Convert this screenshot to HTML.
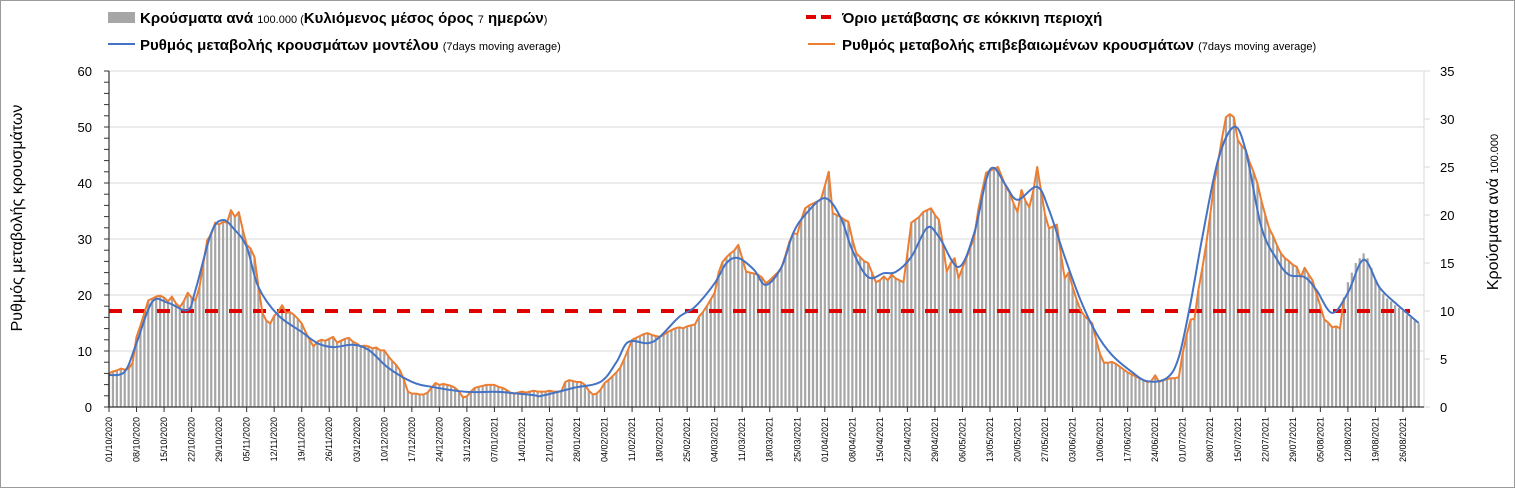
<!DOCTYPE html>
<html><head><meta charset="utf-8"><style>
body{margin:0;background:#fff}
svg{display:block;font-family:"Liberation Sans Narrow","Liberation Sans","Noto Sans CJK SC",sans-serif}
</style></head><body>
<svg id="chart" width="1515" height="488" viewBox="0 0 1515 488" xmlns="http://www.w3.org/2000/svg">
<rect x="0.5" y="0.5" width="1514" height="487" fill="#fff" stroke="#9a9a9a"/>
<g id="grid"></g>
<g id="bars"></g>
<g id="lines"></g>
<g id="axes"></g>
<text transform="translate(22,218) rotate(-90)" text-anchor="middle" font-size="16" fill="#000">Ρυθμός μεταβολής κρουσμάτων</text>
<text transform="translate(1498,212) rotate(-90)" text-anchor="middle" font-size="16" fill="#000">Κρούσματα ανά <tspan font-size="11">100.000</tspan></text>
<g>
<g>
<rect x="108" y="12" width="27" height="11" fill="#a6a6a6"/>
<text x="140" y="23" font-size="15" font-weight="bold" fill="#000">Κρούσματα ανά <tspan font-size="11" font-weight="normal">100.000 (</tspan>Κυλιόμενος μέσος όρος <tspan font-size="11" font-weight="normal">7</tspan> ημερών<tspan font-size="11" font-weight="normal">)</tspan></text>
</g>
<g>
<line x1="108" y1="44" x2="135" y2="44" stroke="#4472c4" stroke-width="2"/>
<text x="140" y="50" font-size="15" font-weight="bold" fill="#000">Ρυθμός μεταβολής κρουσμάτων μοντέλου <tspan font-size="11" font-weight="normal">(7days moving average)</tspan></text>
</g>
<g>
<line x1="806" y1="17" x2="836" y2="17" stroke="#e00000" stroke-width="4" stroke-dasharray="10,5"/>
<text x="842" y="23" font-size="15" font-weight="bold" fill="#000">Όριο μετάβασης σε κόκκινη περιοχή</text>
</g>
<g>
<line x1="808" y1="44" x2="835" y2="44" stroke="#ed7d31" stroke-width="2"/>
<text x="842" y="50" font-size="15" font-weight="bold" fill="#000">Ρυθμός μεταβολής επιβεβαιωμένων κρουσμάτων <tspan font-size="11" font-weight="normal">(7days moving average)</tspan></text>
</g>
</g>
</svg>
<script>
// cases per 100k (right axis), one per day starting 01/10/2020
const cases = [
3.5,3.7,3.8,4.0,3.9,4.0,4.6,7.3,8.5,9.8,
11.1,11.3,11.5,11.6,11.4,11.0,11.5,10.8,10.4,11.0,
11.9,11.4,11.1,12.5,15.0,17.4,18.0,19.2,19.0,19.3,
19.2,20.5,19.8,20.3,18.5,16.9,16.5,15.6,12.5,9.8,
9.0,8.7,9.5,9.9,10.6,9.8,9.9,9.6,9.2,8.7,
7.8,7.0,6.3,6.8,7.0,6.9,7.1,7.3,6.7,6.9,
7.1,7.2,6.8,6.6,6.3,6.4,6.3,6.1,6.2,5.9,
5.9,5.3,4.8,4.4,3.8,2.8,1.6,1.4,1.4,1.3,
1.3,1.5,2.0,2.5,2.3,2.4,2.3,2.2,2.0,1.6,
1.0,1.1,1.6,2.0,2.1,2.2,2.3,2.3,2.3,2.1,
2.0,1.8,1.5,1.4,1.5,1.6,1.5,1.6,1.7,1.6,
1.6,1.6,1.7,1.6,1.6,1.6,2.6,2.8,2.7,2.6,
2.6,2.3,1.7,1.3,1.4,1.8,2.5,2.8,3.2,3.6,
4.1,5.0,6.0,7.0,7.2,7.4,7.6,7.7,7.5,7.4,
7.3,7.5,7.8,8.0,8.2,8.3,8.2,8.4,8.5,8.6,
9.4,9.9,10.5,11.2,11.9,14.0,15.1,15.6,16.0,16.3,
16.9,15.5,14.1,14.0,13.9,13.8,13.5,12.9,13.2,13.6,
14.0,14.5,15.8,17.2,18.1,18.0,19.5,20.7,21.0,21.2,
21.4,21.6,23.0,24.5,20.2,20.0,19.8,19.5,19.3,17.5,
16.0,15.6,15.2,15.0,14.0,13.0,13.2,13.6,13.2,13.8,
13.4,13.2,13.0,16.0,19.2,19.5,19.8,20.3,20.5,20.7,
20.0,19.5,17.0,14.1,15.0,15.5,13.4,14.5,15.5,16.6,
17.7,20.5,22.5,24.4,24.6,24.8,25.0,24.0,23.0,22.3,
21.2,20.3,22.6,21.5,20.8,22.5,25.0,22.5,20.0,18.6,
18.8,19.0,16.0,13.4,14.0,12.5,11.2,10.1,9.5,9.1,
8.7,7.0,5.5,4.6,4.6,4.7,4.5,4.2,3.9,3.6,
3.4,3.2,3.0,2.8,2.6,2.7,3.3,2.6,2.8,2.9,
3.0,3.0,3.1,5.6,7.5,9.1,9.2,12.2,14.5,17.0,
20.0,23.3,25.5,28.0,30.2,30.5,30.2,27.8,27.2,26.8,
25.5,24.5,23.3,21.5,20.0,18.6,17.8,16.8,16.0,15.5,
15.2,14.8,14.6,13.5,14.5,13.8,13.2,11.8,10.5,9.1,
8.8,8.3,8.4,8.2,11.4,13.0,14.0,15.0,15.5,16.0,
15.5,14.5,13.3,12.5,11.8,11.3,11.0,10.6,10.3,10.0,
9.6,9.3,9.0,8.7];
// number of days covered by the confirmed-cases rate line
const confirmedDays = 315;
// model rate (left axis), sampled days
const modelDays = [0,4,7,11,15,20,22,26,29,32,35,38,43,49,53,57,62,66,71,77,82,91,99,108,110,118,125,129,132,137,140,145,149,154,157,160,164,167,171,174,177,182,186,189,193,197,200,204,208,211,216,220,223,225,228,231,236,239,243,247,251,255,260,264,269,272,275,278,282,286,289,293,297,300,304,307,311,315,319,323,327,333];
const modelVals = [5.7,6.3,11.4,18.8,18.6,17.3,20.9,31.1,33.4,31.6,28.6,21.4,16.4,13.4,11.4,10.7,11.1,10.2,7.0,4.5,3.6,2.7,2.7,2.1,2.0,3.4,4.5,8.0,11.6,11.4,12.5,16.1,17.9,22.1,25.7,26.6,24.5,21.8,25.0,31.1,34.3,37.3,33.9,28.0,23.2,23.9,24.1,26.8,32.0,30.4,25.0,31.1,40.5,42.7,39.6,37.0,39.3,35.2,26.8,19.1,13.2,9.3,6.3,4.6,5.2,8.9,18.6,30.4,44.1,50.0,45.9,32.1,26.3,23.6,23.2,20.9,16.8,20.4,26.3,21.4,18.6,15.0];
const threshold = 10; // right axis
const leftTicks = [0,10,20,30,40,50,60];
const rightTicks = [0,5,10,15,20,25,30,35];
const startDate = new Date(2020,9,1);

const NS="http://www.w3.org/2000/svg";
const X0=109, PX_PER_DAY=3.933, Y0=407;
const xDay=d=>X0+d*PX_PER_DAY;
const yL=v=>Y0-v*(336/60);
const yR=v=>Y0-v*(336/35);
function mk(tag,attrs,parent){const e=document.createElementNS(NS,tag);for(const k in attrs)e.setAttribute(k,attrs[k]);parent.appendChild(e);return e;}
const grid=document.getElementById('grid'),bars=document.getElementById('bars'),lines=document.getElementById('lines'),axes=document.getElementById('axes');

leftTicks.forEach(t=>{
  if(t>0){const g=mk('line',{x1:X0,x2:1424,y1:yL(t),y2:yL(t),stroke:'#d9d9d9','stroke-width':1},grid);
  
  }
  const tx=mk('text',{x:92,y:yL(t)+5,'text-anchor':'end','font-size':13,fill:'#000'},axes);tx.textContent=t;
  
  
});
for(let v=0;v<=60;v+=2){mk('line',{x1:X0-5,x2:X0,y1:yL(v),y2:yL(v),stroke:'#333','stroke-width':1},axes);}
mk('line',{x1:X0,x2:X0,y1:yL(60),y2:Y0,stroke:'#333','stroke-width':1.2},axes);
mk('line',{x1:1424,x2:1424,y1:yL(60),y2:Y0,stroke:'#d9d9d9','stroke-width':1},axes);
rightTicks.forEach(t=>{
  mk('line',{x1:1424,x2:1430,y1:yR(t),y2:yR(t),stroke:'#d9d9d9'},axes);
  const tx=mk('text',{x:1440,y:yR(t)+5,'font-size':13,fill:'#000'},axes);tx.textContent=t;
  
  
});

cases.forEach((v,i)=>{
  const r=mk('rect',{x:xDay(i)-1.1,y:yR(v),width:2.2,height:Y0-yR(v),fill:'#a6a6a6'},bars);
  
  
});
mk('line',{x1:X0,x2:1424,y1:Y0,y2:Y0,stroke:'#333','stroke-width':1.2},axes);

for(let d=0;d<cases.length;d+=7){
  mk('line',{x1:xDay(d),x2:xDay(d),y1:Y0,y2:Y0+5,stroke:'#333'},axes);
  const dt=new Date(startDate.getTime());dt.setDate(dt.getDate()+d);
  const lab=String(dt.getDate()).padStart(2,'0')+'/'+String(dt.getMonth()+1).padStart(2,'0')+'/'+dt.getFullYear();
  const tx=mk('text',{transform:`translate(${xDay(d)+3},${Y0+10}) rotate(-90)`,'text-anchor':'end','font-size':9,fill:'#000'},axes);
  tx.textContent=lab;
  
  
}

const th=mk('line',{x1:X0,x2:1410,y1:yR(threshold),y2:yR(threshold),stroke:'#e00000','stroke-width':4,'stroke-dasharray':'13,11'},lines);



let op='';
for(let i=0;i<confirmedDays&&i<cases.length;i++){op+=(i?'L':'M')+xDay(i).toFixed(1)+','+yR(cases[i]).toFixed(1);}
const o=mk('path',{d:op,fill:'none',stroke:'#ed7d31','stroke-width':2,'stroke-linejoin':'round'},lines);



const pts=modelDays.map((d,i)=>[xDay(d),yL(modelVals[i])]);
let bp='M'+pts[0][0]+','+pts[0][1];
for(let i=0;i<pts.length-1;i++){
  const p0=pts[Math.max(0,i-1)],p1=pts[i],p2=pts[i+1],p3=pts[Math.min(pts.length-1,i+2)];
  const c1=[p1[0]+(p2[0]-p0[0])/6,p1[1]+(p2[1]-p0[1])/6],c2=[p2[0]-(p3[0]-p1[0])/6,p2[1]-(p3[1]-p1[1])/6];
  bp+=`C${c1[0].toFixed(1)},${c1[1].toFixed(1)} ${c2[0].toFixed(1)},${c2[1].toFixed(1)} ${p2[0].toFixed(1)},${p2[1].toFixed(1)}`;
}
const b=mk('path',{d:bp,fill:'none',stroke:'#4472c4','stroke-width':2},lines);


</script>
</body></html>
